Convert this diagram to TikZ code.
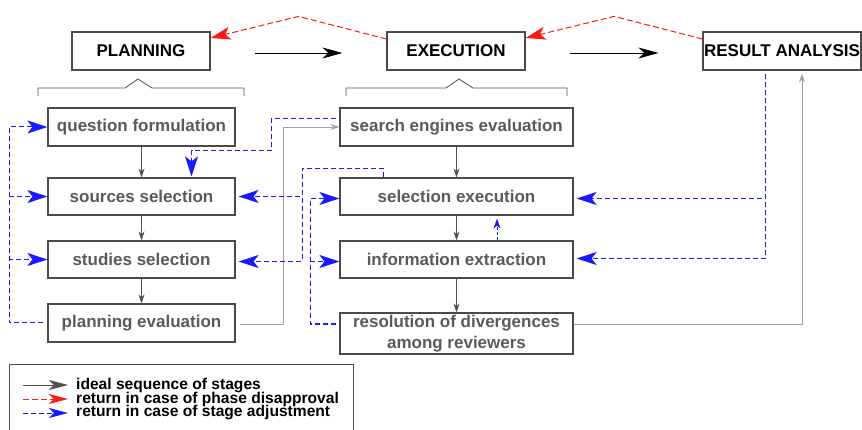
\documentclass[tikz,border=0pt]{standalone}
\usepackage{fontspec}
\setmainfont{Liberation Sans}
\usetikzlibrary{arrows.meta,calc}
\definecolor{boxline}{HTML}{4A4A4A}
\definecolor{boxtext}{HTML}{5A5A5A}
\definecolor{flowgray}{HTML}{505050}
\definecolor{longgray}{HTML}{A0A0A0}
\definecolor{retblue}{HTML}{1A1AFF}
\definecolor{retred}{HTML}{FF1A1A}
\begin{document}
\begin{tikzpicture}[x=1pt,y=-1pt,
 phase/.style={draw=boxline, line width=1.2pt, minimum height=38pt, inner sep=0pt,
   font=\fontsize{17}{20}\selectfont\bfseries, text=black},
 stage/.style={draw=boxline, line width=1.2pt, inner sep=0pt, minimum height=37pt,
   font=\fontsize{17}{21}\selectfont\bfseries, text=boxtext, align=center},
 ideal/.style={draw=flowgray, line width=0.7pt, -{Stealth[length=9pt,width=6pt,inset=3pt]}},
 longideal/.style={draw=longgray, line width=0.9pt, -{Stealth[length=9pt,width=6pt,inset=3pt]}},
 phasearrow/.style={draw=black, line width=0.8pt, -{Stealth[length=20pt,width=11pt,inset=6pt]}},
 adjust/.style={draw=retblue, line width=1pt, dash pattern=on 5pt off 3pt,
   -{Stealth[length=20pt,width=13pt,inset=5pt]}},
 smalladjust/.style={draw=retblue, line width=0.9pt, dash pattern=on 3pt off 2pt,
   -{Stealth[length=10pt,width=7pt,inset=3pt]}},
 disapprove/.style={draw=retred, line width=1pt, dash pattern=on 6pt off 3pt,
   -{Stealth[length=20pt,width=13pt,inset=5pt]}},
 legarrow/.style={-{Stealth[length=19pt,width=10pt,inset=5pt]}},
 bracepath/.style={draw=flowgray, line width=0.8pt},
 legtext/.style={anchor=west, inner sep=0pt, font=\fontsize{15.6}{14}\selectfont\bfseries, text=black},
]
\useasboundingbox (0,0) rectangle (862,430);

% phases
\node[phase, minimum width=138pt] (plan) at (141,51) {PLANNING};
\node[phase, minimum width=138pt] (exec) at (456,51) {EXECUTION};
\node[phase, minimum width=158pt] (res) at (782,51) {RESULT ANALYSIS};

% braces
\draw[bracepath] (38,96) -- (38,88) -- (125,88) -- (138,79) -- (152,88) -- (244,88) -- (244,96);
\draw[bracepath] (346,96) -- (346,88) -- (446,88) -- (459,79) -- (473,88) -- (567,88) -- (567,96);

% planning stages
\node[stage, minimum width=187pt, minimum height=38pt] (q) at (141.5,127) {question formulation};
\node[stage, minimum width=187pt] (src) at (141.5,196.5) {sources selection};
\node[stage, minimum width=187pt] (stud) at (141.5,259.5) {studies selection};
\node[stage, minimum width=187pt, minimum height=38pt] (peval) at (141.5,323) {planning evaluation};

% execution stages
\node[stage, minimum width=233pt, minimum height=38pt] (search) at (456.5,127) {search engines evaluation};
\node[stage, minimum width=233pt] (selx) at (456.5,196.5) {selection execution};
\node[stage, minimum width=233pt] (info) at (456.5,259.5) {information extraction};
\node[stage, minimum width=233pt, minimum height=41pt] (resol) at (456.5,333.5) {resolution of divergences\\among reviewers};

% phase sequence
\draw[phasearrow] ([xshift=44pt,yshift=-2pt]plan.east) -- ([xshift=-44pt,yshift=-2pt]exec.west);
\draw[phasearrow] ([xshift=44pt,yshift=-2pt]exec.east) -- ([xshift=-44pt,yshift=-2pt]res.west);

% phase disapproval
\draw[disapprove] ([yshift=12pt]exec.west) -- ($(plan.north east)!0.5!(exec.north west)+(0,-15)$) -- ([yshift=13pt]plan.east);
\draw[disapprove] ([yshift=12pt]res.west) -- ($(exec.north east)!0.5!(res.north west)+(0,-15)$) -- ([yshift=13pt]exec.east);

% ideal sequence within phases
\draw[ideal] (q) -- (src);
\draw[ideal] (src) -- (stud);
\draw[ideal] (stud) -- (peval);
\draw[ideal] (search) -- (selx);
\draw[ideal] (selx) -- (info);
\draw[ideal] (info) -- (resol);
\draw[longideal] ([xshift=4pt,yshift=-1pt]peval.east) -- ++(44,0) |- (search.west);
\draw[longideal] ([yshift=9.5pt]resol.east) -| ([xshift=20pt,yshift=-3pt]res.south);

% stage adjustments - planning
\draw[adjust] ([xshift=-4pt]peval.west) -- ++(-34,0) |- (q.west);
\draw[adjust] ([xshift=-4pt]peval.west) -- ++(-34,0) |- (src.west);
\draw[adjust] ([xshift=-4pt]peval.west) -- ++(-34,0) |- (stud.west);
\draw[adjust] ([xshift=-3pt,yshift=8pt]search.west) -- ++(-65,0) -- ++(0,32) -| ([xshift=50pt,yshift=1pt]src.north);

% stage adjustments - execution
\draw[adjust] ([xshift=-73.5pt]selx.north) -- ++(0,-9) -- ++(-81,0) |- ([xshift=3pt]src.east);
\draw[adjust] ([xshift=-73.5pt]selx.north) -- ++(0,-9) -- ++(-81,0) |- ([xshift=3pt,yshift=-2pt]stud.east);
\draw[adjust] ([xshift=-3pt,yshift=9.5pt]resol.west) -- ++(-26,0) |- ([yshift=-2pt]selx.west);
\draw[adjust] ([xshift=-3pt,yshift=9.5pt]resol.west) -- ++(-26,0) |- ([yshift=-2pt]info.west);
\draw[smalladjust] ([xshift=40.5pt]info.north) -- ([xshift=40.5pt,yshift=-3pt]selx.south);

% stage adjustments - result analysis
\draw[adjust] ([xshift=-17pt,yshift=-3pt]res.south) |- ([xshift=3pt,yshift=-2pt]selx.east);
\draw[adjust] ([xshift=-17pt,yshift=-3pt]res.south) |- ([xshift=3pt,yshift=1pt]info.east);

% legend
\begin{scope}
\clip (0,0) rectangle (862,430);
\node[draw=boxline, line width=0.9pt, minimum width=344pt, minimum height=80pt, inner sep=0pt] (legend) at (181,404) {};
\end{scope}
\node[legtext] (lt1) at (76,385) {ideal sequence of stages};
\node[legtext] (lt2) at (76,399) {return in case of phase disapproval};
\node[legtext] (lt3) at (76,413) {return in case of stage adjustment};
\draw[draw=flowgray, line width=0.8pt, legarrow] ([xshift=-53pt]lt1.west) -- ([xshift=-8pt]lt1.west);
\draw[disapprove, legarrow] ([xshift=-53pt]lt2.west) -- ([xshift=-8pt]lt2.west);
\draw[adjust, legarrow] ([xshift=-53pt]lt3.west) -- ([xshift=-8pt]lt3.west);
\end{tikzpicture}
\end{document}
